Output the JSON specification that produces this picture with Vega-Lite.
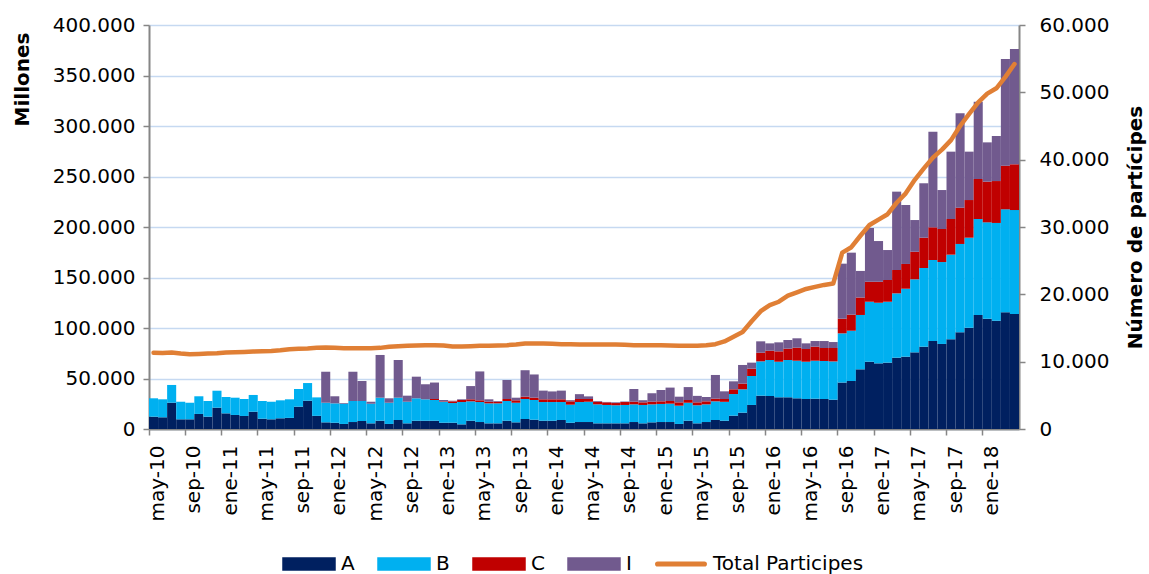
{
  "$schema": "https://vega.github.io/schema/vega-lite/v6.json",
  "width": 870,
  "height": 404,
  "autosize": {"type": "none"},
  "padding": {"left": 149, "top": 25, "right": 130, "bottom": 145},
  "background": "white",
  "config": {
    "font": "DejaVu Sans",
    "view": {"stroke": null},
    "axis": {"labelFont": "DejaVu Sans", "titleFont": "DejaVu Sans", "labelColor": "#000000", "titleColor": "#000000"},
    "legend": {"labelFont": "DejaVu Sans"}
  },
  "data": {
    "values": [
      {"mes": "may-10", "A": 12200, "B": 18200, "C": 0, "I": 0, "P": 11330},
      {"mes": "jun-10", "A": 11600, "B": 17800, "C": 0, "I": 0, "P": 11300},
      {"mes": "jul-10", "A": 26000, "B": 17600, "C": 0, "I": 0, "P": 11350},
      {"mes": "ago-10", "A": 9600, "B": 17400, "C": 0, "I": 0, "P": 11200},
      {"mes": "sep-10", "A": 9600, "B": 16400, "C": 0, "I": 0, "P": 11100},
      {"mes": "oct-10", "A": 14900, "B": 17500, "C": 0, "I": 0, "P": 11150},
      {"mes": "nov-10", "A": 12200, "B": 15500, "C": 0, "I": 0, "P": 11200},
      {"mes": "dic-10", "A": 21100, "B": 16800, "C": 0, "I": 0, "P": 11250},
      {"mes": "ene-11", "A": 15500, "B": 16200, "C": 0, "I": 0, "P": 11350},
      {"mes": "feb-11", "A": 13900, "B": 17100, "C": 0, "I": 0, "P": 11400},
      {"mes": "mar-11", "A": 12900, "B": 16800, "C": 0, "I": 0, "P": 11450},
      {"mes": "abr-11", "A": 17100, "B": 16600, "C": 0, "I": 0, "P": 11500},
      {"mes": "may-11", "A": 10200, "B": 17500, "C": 0, "I": 0, "P": 11550},
      {"mes": "jun-11", "A": 9600, "B": 17400, "C": 0, "I": 0, "P": 11600},
      {"mes": "jul-11", "A": 10600, "B": 17800, "C": 0, "I": 0, "P": 11700},
      {"mes": "ago-11", "A": 11000, "B": 18400, "C": 0, "I": 0, "P": 11850},
      {"mes": "sep-11", "A": 22100, "B": 17500, "C": 0, "I": 0, "P": 11900},
      {"mes": "oct-11", "A": 28000, "B": 17500, "C": 0, "I": 0, "P": 11950},
      {"mes": "nov-11", "A": 13000, "B": 18300, "C": 0, "I": 0, "P": 12050},
      {"mes": "dic-11", "A": 6600, "B": 19400, "C": 0, "I": 30700, "P": 12100},
      {"mes": "ene-12", "A": 6200, "B": 19200, "C": 0, "I": 7000, "P": 12050},
      {"mes": "feb-12", "A": 5000, "B": 20000, "C": 0, "I": 700, "P": 12000},
      {"mes": "mar-12", "A": 6900, "B": 20800, "C": 0, "I": 29000, "P": 12000},
      {"mes": "abr-12", "A": 7900, "B": 19800, "C": 0, "I": 19800, "P": 12000},
      {"mes": "may-12", "A": 5600, "B": 19400, "C": 0, "I": 2000, "P": 12000},
      {"mes": "jun-12", "A": 8200, "B": 22800, "C": 0, "I": 42300, "P": 12050},
      {"mes": "jul-12", "A": 5000, "B": 21000, "C": 0, "I": 4400, "P": 12200},
      {"mes": "ago-12", "A": 8900, "B": 22100, "C": 0, "I": 37300, "P": 12300},
      {"mes": "sep-12", "A": 5600, "B": 21400, "C": 0, "I": 6000, "P": 12350},
      {"mes": "oct-12", "A": 8200, "B": 22200, "C": 0, "I": 21400, "P": 12400},
      {"mes": "nov-12", "A": 8200, "B": 21200, "C": 0, "I": 14900, "P": 12450},
      {"mes": "dic-12", "A": 8200, "B": 20500, "C": 1000, "I": 16300, "P": 12450},
      {"mes": "ene-13", "A": 6200, "B": 20800, "C": 500, "I": 1200, "P": 12400},
      {"mes": "feb-13", "A": 6200, "B": 19500, "C": 1700, "I": 600, "P": 12250},
      {"mes": "mar-13", "A": 4600, "B": 22100, "C": 2000, "I": 700, "P": 12250},
      {"mes": "abr-13", "A": 8200, "B": 19200, "C": 2000, "I": 13100, "P": 12300},
      {"mes": "may-13", "A": 6900, "B": 19800, "C": 1700, "I": 28600, "P": 12350},
      {"mes": "jun-13", "A": 5600, "B": 19800, "C": 1600, "I": 2400, "P": 12350},
      {"mes": "jul-13", "A": 5600, "B": 19800, "C": 1600, "I": 700, "P": 12400},
      {"mes": "ago-13", "A": 8200, "B": 19500, "C": 2000, "I": 18800, "P": 12450},
      {"mes": "sep-13", "A": 6600, "B": 19400, "C": 2400, "I": 2600, "P": 12550},
      {"mes": "oct-13", "A": 9900, "B": 19800, "C": 2300, "I": 26200, "P": 12700},
      {"mes": "nov-13", "A": 9200, "B": 19500, "C": 2300, "I": 23000, "P": 12700},
      {"mes": "dic-13", "A": 8200, "B": 18500, "C": 2700, "I": 8600, "P": 12700},
      {"mes": "ene-14", "A": 8200, "B": 18500, "C": 2700, "I": 7800, "P": 12650},
      {"mes": "feb-14", "A": 8900, "B": 17800, "C": 2700, "I": 8600, "P": 12600},
      {"mes": "mar-14", "A": 6200, "B": 17900, "C": 3300, "I": 1100, "P": 12600},
      {"mes": "abr-14", "A": 6900, "B": 19800, "C": 3000, "I": 4800, "P": 12550},
      {"mes": "may-14", "A": 6900, "B": 20100, "C": 2700, "I": 2600, "P": 12550},
      {"mes": "jun-14", "A": 5600, "B": 18800, "C": 2600, "I": 700, "P": 12550},
      {"mes": "jul-14", "A": 5600, "B": 18200, "C": 2600, "I": 400, "P": 12550},
      {"mes": "ago-14", "A": 5600, "B": 17900, "C": 2200, "I": 700, "P": 12550},
      {"mes": "sep-14", "A": 5600, "B": 18200, "C": 2900, "I": 500, "P": 12500},
      {"mes": "oct-14", "A": 6900, "B": 17500, "C": 2600, "I": 12600, "P": 12450},
      {"mes": "nov-14", "A": 5600, "B": 18200, "C": 2600, "I": 2100, "P": 12450},
      {"mes": "dic-14", "A": 6600, "B": 17800, "C": 2600, "I": 8400, "P": 12450},
      {"mes": "ene-15", "A": 6900, "B": 17900, "C": 2600, "I": 11200, "P": 12450},
      {"mes": "feb-15", "A": 6900, "B": 18200, "C": 2600, "I": 13300, "P": 12400},
      {"mes": "mar-15", "A": 5000, "B": 18100, "C": 3300, "I": 5600, "P": 12350},
      {"mes": "abr-15", "A": 8200, "B": 17800, "C": 2700, "I": 12800, "P": 12350},
      {"mes": "may-15", "A": 5600, "B": 17900, "C": 2900, "I": 6400, "P": 12350},
      {"mes": "jun-15", "A": 6900, "B": 17500, "C": 3000, "I": 4300, "P": 12450},
      {"mes": "jul-15", "A": 8900, "B": 18500, "C": 2600, "I": 23500, "P": 12600},
      {"mes": "ago-15", "A": 8200, "B": 18700, "C": 2800, "I": 7600, "P": 13000},
      {"mes": "sep-15", "A": 13200, "B": 21400, "C": 4700, "I": 7900, "P": 13700},
      {"mes": "oct-15", "A": 16200, "B": 23100, "C": 5600, "I": 18500, "P": 14400},
      {"mes": "nov-15", "A": 23800, "B": 28700, "C": 7200, "I": 6000, "P": 16000},
      {"mes": "dic-15", "A": 33000, "B": 34000, "C": 8500, "I": 11300, "P": 17500},
      {"mes": "ene-16", "A": 32700, "B": 35600, "C": 9200, "I": 7300, "P": 18400},
      {"mes": "feb-16", "A": 31400, "B": 35200, "C": 10300, "I": 8900, "P": 18900},
      {"mes": "mar-16", "A": 31400, "B": 36900, "C": 11200, "I": 8600, "P": 19800},
      {"mes": "abr-16", "A": 30400, "B": 37200, "C": 12900, "I": 9300, "P": 20300},
      {"mes": "may-16", "A": 29700, "B": 36900, "C": 12600, "I": 5600, "P": 20800},
      {"mes": "jun-16", "A": 30000, "B": 37600, "C": 13900, "I": 5600, "P": 21100},
      {"mes": "jul-16", "A": 29700, "B": 37600, "C": 12900, "I": 6900, "P": 21400},
      {"mes": "ago-16", "A": 29000, "B": 37900, "C": 13300, "I": 5900, "P": 21600},
      {"mes": "sep-16", "A": 46000, "B": 48700, "C": 14500, "I": 54500, "P": 26200},
      {"mes": "oct-16", "A": 47500, "B": 49800, "C": 15900, "I": 61400, "P": 27000},
      {"mes": "nov-16", "A": 59100, "B": 53800, "C": 17300, "I": 26300, "P": 28700},
      {"mes": "dic-16", "A": 66600, "B": 59400, "C": 19800, "I": 53200, "P": 30300},
      {"mes": "ene-17", "A": 65000, "B": 60000, "C": 20800, "I": 40300, "P": 31100},
      {"mes": "feb-17", "A": 65700, "B": 60300, "C": 21500, "I": 29700, "P": 31900},
      {"mes": "mar-17", "A": 70600, "B": 63700, "C": 23100, "I": 77600, "P": 33600},
      {"mes": "abr-17", "A": 71600, "B": 67300, "C": 24500, "I": 58400, "P": 35000},
      {"mes": "may-17", "A": 75900, "B": 72300, "C": 27300, "I": 31400, "P": 37000},
      {"mes": "jun-17", "A": 81500, "B": 77900, "C": 30000, "I": 53900, "P": 38700},
      {"mes": "jul-17", "A": 87100, "B": 80200, "C": 32400, "I": 94700, "P": 40300},
      {"mes": "ago-17", "A": 84200, "B": 81100, "C": 32700, "I": 38600, "P": 41500},
      {"mes": "sep-17", "A": 88800, "B": 83800, "C": 35300, "I": 66700, "P": 42900},
      {"mes": "oct-17", "A": 95700, "B": 87500, "C": 35900, "I": 93500, "P": 45000},
      {"mes": "nov-17", "A": 100300, "B": 89100, "C": 37300, "I": 47900, "P": 46800},
      {"mes": "dic-17", "A": 112900, "B": 95000, "C": 39600, "I": 76500, "P": 48500},
      {"mes": "ene-18", "A": 109200, "B": 95400, "C": 40300, "I": 38900, "P": 49800},
      {"mes": "feb-18", "A": 107200, "B": 96800, "C": 41500, "I": 44600, "P": 50600},
      {"mes": "mar-18", "A": 115500, "B": 102000, "C": 43200, "I": 105600, "P": 52300},
      {"mes": "abr-18", "A": 113900, "B": 102900, "C": 45300, "I": 114100, "P": 54200}
    ]
  },
  "encoding": {
    "x": {
      "field": "mes",
      "type": "ordinal",
      "sort": null,
      "scale": {"paddingInner": 0, "paddingOuter": 0},
      "axis": {
        "title": null,
        "values": ["may-10","sep-10","ene-11","may-11","sep-11","ene-12","may-12","sep-12","ene-13","may-13","sep-13","ene-14","may-14","sep-14","ene-15","may-15","sep-15","ene-16","may-16","sep-16","ene-17","may-17","sep-17","ene-18"],
        "bandPosition": 0,
        "labelOffset": 4.5,
        "labelAngle": 270,
        "labelFontSize": 20,
        "labelPadding": 10,
        "labelOverlap": false,
        "tickSize": 6,
        "tickColor": "#868686",
        "tickWidth": 1.5,
        "domainColor": "#868686",
        "domainWidth": 2,
        "grid": false
      }
    }
  },
  "layer": [
    {
      "transform": [{"fold": ["A", "B", "C", "I"], "as": ["serie", "valor"]}],
      "mark": {"type": "bar"},
      "encoding": {
        "y": {
          "field": "valor",
          "type": "quantitative",
          "stack": "zero",
          "scale": {"domain": [0, 400000], "nice": false},
          "axis": {
            "title": "Millones",
            "values": [0, 50000, 100000, 150000, 200000, 250000, 300000, 350000, 400000],
            "labelExpr": "replace(format(datum.value, ','), ',', '.')",
            "labelFontSize": 20,
            "labelPadding": 8,
            "titleFontSize": 20,
            "titleFontWeight": "bold",
            "titleAngle": 270,
            "titleAlign": "center",
            "titleBaseline": "middle",
            "titleX": -127,
            "titleY": 54,
            "grid": true,
            "gridColor": "#c6d9f1",
            "gridWidth": 1.5,
            "tickSize": 6,
            "tickColor": "#868686",
            "tickWidth": 1.5,
            "domainColor": "#868686",
            "domainWidth": 2
          }
        },
        "color": {
          "field": "serie",
          "type": "nominal",
          "scale": {
            "domain": ["A", "B", "C", "I", "Total Participes"],
            "range": ["#002060", "#00B0F0", "#C00000", "#715A8E", "#E07F35"]
          },
          "legend": {
            "orient": "none",
            "legendX": 133,
            "legendY": 512,
            "direction": "horizontal",
            "title": null,
            "labelFontSize": 20,
            "labelColor": "#000000",
            "symbolSize": 2704,
            "labelOffset": 5,
            "columnPadding": 20,
            "encode": {
              "symbols": {
                "update": {
                  "shape": {"signal": "datum.value === 'Total Participes' ? 'M-0.9,-0.07H0.9A0.07,0.07 0 0 1 0.9,0.07H-0.9A0.07,0.07 0 0 1 -0.9,-0.07Z' : 'M-1,-0.23H1V0.23H-1Z'"},
                  "fill": {"scale": "color", "field": "value"},
                  "stroke": {"value": "transparent"},
                  "opacity": {"value": 1},
                  "fillOpacity": {"value": 1}
                }
              }
            }
          }
        },
        "order": {"field": "serie", "sort": "ascending"}
      }
    },
    {
      "mark": {"type": "line", "strokeWidth": 4.5, "strokeCap": "round", "strokeJoin": "round"},
      "encoding": {
        "y": {
          "field": "P",
          "type": "quantitative",
          "scale": {"domain": [0, 60000], "nice": false},
          "axis": {
            "orient": "right",
            "title": "Número de partícipes",
            "values": [0, 10000, 20000, 30000, 40000, 50000, 60000],
            "labelExpr": "replace(format(datum.value, ','), ',', '.')",
            "labelFontSize": 20,
            "labelPadding": 14,
            "titleFontSize": 20,
            "titleFontWeight": "bold",
            "titleAngle": 270,
            "titleAlign": "center",
            "titleBaseline": "middle",
            "titleX": 116,
            "titleY": 202,
            "grid": false,
            "tickSize": 6,
            "tickColor": "#868686",
            "tickWidth": 1.5,
            "domainColor": "#868686",
            "domainWidth": 2
          }
        },
        "color": {"datum": "Total Participes", "type": "nominal"}
      }
    }
  ],
  "resolve": {"scale": {"y": "independent"}}
}
